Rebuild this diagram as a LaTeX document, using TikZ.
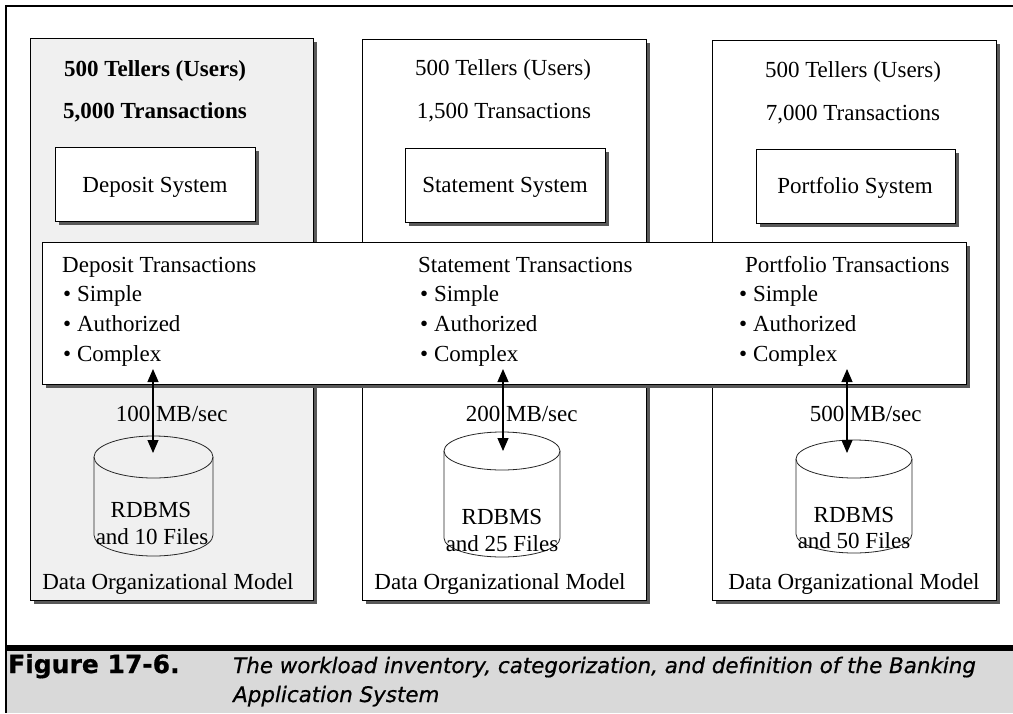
\documentclass[tikz,border=0pt]{standalone}
\usepackage{fontspec}
\setmainfont{Liberation Serif}
\newfontfamily\capfont{DejaVu Sans}[FakeBold=0.7]
\usetikzlibrary{shadows,arrows.meta}
\newcommand{\mycyl}[5]{%
  \draw[cyl] (#1,#3) ellipse[x radius=#2pt, y radius=#5pt];
  \draw[cyl] ({#1-#2},#3) -- ({#1-#2},#4) arc[start angle=180,end angle=360,x radius=#2pt,y radius=#5pt] -- ({#1+#2},#3);
}
\begin{document}
\begin{tikzpicture}[x=1pt,y=-1pt,
  panel/.style={draw=black, line width=1.1pt, inner sep=0pt, anchor=north west,
    drop shadow={shadow xshift=3.5pt, shadow yshift=-3.5pt, fill=black!65, opacity=1}},
  sysbox/.style={panel, fill=white, minimum width=200pt, minimum height=74pt},
  txt/.style={inner sep=0pt, font=\fontsize{23}{27}\selectfont},
  ltxt/.style={txt, anchor=base west},
  ctxt/.style={txt, anchor=base},
  cyl/.style={draw=black!85, line width=0.8pt},
  dbl/.style={{Triangle[length=13pt,width=11pt]}-{Triangle[length=13pt,width=11pt]}, line width=1.1pt},
  capb/.style={inner sep=0pt, anchor=base west, font=\capfont\bfseries\fontsize{25}{29}\selectfont},
  capi/.style={inner sep=0pt, anchor=base west, font=\capfont\itshape\fontsize{21.4}{26}\selectfont}
]
\useasboundingbox (0,0) rectangle (1013,713);
\fill[white] (0,0) rectangle (1013,713);

% outer frame and caption
\fill[gray!30] (7,651) rectangle (1013,713);
\draw[line width=2pt] (1013,6) -- (6,6) -- (6,713);
\draw[line width=6pt] (6,648) -- (1013,648);

% panels
\node[panel, line width=1.4pt, fill=gray!12, minimum width=283pt, minimum height=562pt] (p1) at (30,38) {};
\node[panel, fill=white, minimum width=284pt, minimum height=561pt] (p2) at (362,39) {};
\node[panel, fill=white, minimum width=284pt, minimum height=560pt] (p3) at (712,40) {};

% panel headings
\node[ctxt, font=\fontsize{23}{27}\selectfont\bfseries] (u1) at (155,76) {500 Tellers (Users)};
\node[ctxt, font=\fontsize{23}{27}\selectfont\bfseries] (t1) at (155,118) {5,000 Transactions};
\node[ctxt] (u2) at (503,75) {500 Tellers (Users)};
\node[ctxt] (t2) at (504,118) {1,500 Transactions};
\node[ctxt] (u3) at (853,77) {500 Tellers (Users)};
\node[ctxt] (t3) at (853,120) {7,000 Transactions};

% system boxes
\node[sysbox, line width=1.3pt] (s1) at (55,147) {};
\node[ctxt] at (155,192) {Deposit System};
\node[sysbox] (s2) at (405,148) {};
\node[ctxt] at (505,192) {Statement System};
\node[sysbox, minimum width=199pt] (s3) at (756,149) {};
\node[ctxt] at (855,193) {Portfolio System};

% transactions bar
\node[panel, line width=1.3pt, fill=white, minimum width=924pt, minimum height=142pt] (bar) at (42,242) {};
\node[ltxt] (d0) at (62,272) {Deposit Transactions};
\node[ltxt] (d1) at (63,301) {\textbullet\ Simple};
\node[ltxt] (d2) at (63,331) {\textbullet\ Authorized};
\node[ltxt] (d3) at (63,361) {\textbullet\ Complex};
\node[ltxt] (m0) at (418,272) {Statement Transactions};
\node[ltxt] (m1) at (420,301) {\textbullet\ Simple};
\node[ltxt] (m2) at (420,331) {\textbullet\ Authorized};
\node[ltxt] (m3) at (420,361) {\textbullet\ Complex};
\node[ltxt] (r0) at (745,272) {Portfolio Transactions};
\node[ltxt] (r1) at (739,301) {\textbullet\ Simple};
\node[ltxt] (r2) at (739,331) {\textbullet\ Authorized};
\node[ltxt] (r3) at (739,361) {\textbullet\ Complex};

% cylinders
\mycyl{153.5}{59.5}{457}{535}{21}
\mycyl{502}{58}{451}{538}{19}
\mycyl{854}{58}{459}{534}{19}
\node[ctxt] (c1a) at (151,517) {RDBMS};
\node[ctxt] (c1b) at (152,544) {and 10 Files};
\node[ctxt] (c2a) at (502,524) {RDBMS};
\node[ctxt] (c2b) at (502,551) {and 25 Files};
\node[ctxt] (c3a) at (854,522) {RDBMS};
\node[ctxt] (c3b) at (854,548) {and 50 Files};

% data organizational model
\node[ctxt] (o1) at (168,589) {Data Organizational Model};
\node[ctxt] (o2) at (500,589) {Data Organizational Model};
\node[ctxt] (o3) at (854,589) {Data Organizational Model};

% arrows
\coordinate (a1t) at (153,369); \coordinate (a1b) at (153,453);
\coordinate (a2t) at (503,369); \coordinate (a2b) at (503,451);
\coordinate (a3t) at (847,369); \coordinate (a3b) at (847,453);
\draw[dbl] (a1t) -- (a1b);
\draw[dbl] (a2t) -- (a2b);
\draw[dbl] (a3t) -- (a3b);
\node[ltxt] (l1) at (115.6,421) {100 MB/sec};
\node[ltxt] (l2) at (465.6,421) {200 MB/sec};
\node[ltxt] (l3) at (809.6,421) {500 MB/sec};

% caption
\node[capb] (fig) at (8,673) {Figure 17-6.};
\node[capi] (cap1) at (233,673) {The workload inventory, categorization, and definition of the Banking};
\node[capi] (cap2) at (233,702) {Application System};
\end{tikzpicture}
\end{document}
